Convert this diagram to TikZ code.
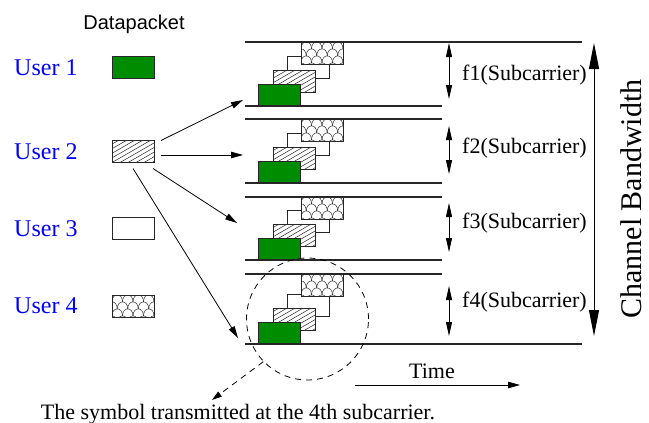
\documentclass[tikz,border=0pt]{standalone}
\usepackage{fontspec}
\setmainfont{Liberation Serif}
\newfontfamily\headsans{Liberation Sans}
\usetikzlibrary{arrows.meta,calc}

\definecolor{pktgreen}{RGB}{0,140,0}
\definecolor{userblue}{RGB}{0,0,255}

\tikzset{
  pkt/.style={draw=black!85, line width=0.8pt, minimum width=42pt, minimum height=22pt,
    inner sep=0pt, outer sep=0pt, fill=white},
  solidpkt/.style={pkt, fill=pktgreen},
  plainpkt/.style={pkt},
  hatchpkt/.style={pkt, path picture={
      \foreach \k in {-48,-40,...,48}
        \draw[line width=0.5pt] ([xshift=\k pt]path picture bounding box.south west) -- ++(40pt,23pt);
    }},
  meshpkt/.style={pkt, path picture={
      \foreach \r in {0,1,2,3,4}{
        \foreach \c in {-1,0,...,4}{
          \pgfmathsetmacro\ox{\c*10.5+mod(\r,2)*5.25}
          \pgfmathsetmacro\oy{-\r*7-7}
          \coordinate (m0) at ([xshift=\ox pt,yshift=\oy pt]path picture bounding box.north west);
          \draw[line width=0.5pt] (m0) .. controls +(0pt,9.5pt) and +(0pt,9.5pt) .. ($(m0)+(10.5pt,0pt)$);
        }
      }
    }},
  userlabel/.style={text=userblue, font=\fontsize{24}{28}\selectfont, anchor=west, inner sep=0pt},
  plain/.style={font=\fontsize{22}{26}\selectfont, inner sep=0pt},
  bandline/.style={line width=1.4pt, black!85},
  feed/.style={-{Triangle[length=12pt,width=6.5pt]}, line width=0.8pt},
  subarrow/.style={{Triangle[length=14pt,width=6pt]}-{Triangle[length=14pt,width=6pt]}, line width=0.8pt},
  bigarrow/.style={{Triangle[length=26pt,width=10pt]}-{Triangle[length=26pt,width=10pt]}, line width=1pt},
  focusring/.style={draw, circle, line width=0.8pt, dash pattern=on 6pt off 5pt, minimum size=122pt, inner sep=0pt},
  notearrow/.style={-{Triangle[length=10pt,width=6pt]}, line width=0.8pt, dash pattern=on 6pt off 5pt},
}

\begin{document}
\begin{tikzpicture}[x=1pt,y=-1pt]
\useasboundingbox (0,0) rectangle (649,423);

% legend of users and their packets
\node[font=\headsans\fontsize{20}{24}\selectfont, inner sep=0pt, anchor=base] (head) at (134,30) {Datapacket};
\node[userlabel] (l1) at (14,68) {User 1};
\node[userlabel] (l2) at (14,152) {User 2};
\node[userlabel] (l3) at (14,229) {User 3};
\node[userlabel] (l4) at (14,306) {User 4};
\node[solidpkt] (u1) at (133,67.5) {};
\node[hatchpkt] (u2) at (133,151.5) {};
\node[plainpkt] (u3) at (133,228.5) {};
\node[meshpkt]  (u4) at (133,306) {};

% subcarrier bands with the four staggered symbols
\foreach \i/\T/\B in {1/42/106, 2/119/183, 3/197/260, 4/274/344}{
  \node[plainpkt] (w\i) at (308,{\B-39}) {};
  \node[meshpkt]  (s\i) at (322,{\T+11}) {};
  \node[hatchpkt] (h\i) at (294,{\B-25}) {};
  \node[solidpkt] (g\i) at (279.5,{\B-11}) {};
}
\draw[bandline] (245,42) -- (582,42);
\draw[bandline] (245,106) -- (442,106);
\draw[bandline] (245,119) -- (442,119);
\draw[bandline] (245,183) -- (442,183);
\draw[bandline] (245,197) -- (442,197);
\draw[bandline] (245,260) -- (442,260);
\draw[bandline] (245,274) -- (442,274);
\draw[bandline] (245,344) -- (582,344);

% user 2 spreads its data over all subcarriers
\coordinate (in1) at (243,100);
\coordinate (in2) at (243,155);
\coordinate (in3) at (237,223);
\coordinate (in4) at (238,338);
\draw[feed] ($(u2.north east)+(7,0)$) -- (in1);
\draw[feed] ($(u2.east)+(7,3.5)$) -- (in2);
\draw[feed] ($(u2.south east)+(-1,6)$) -- (in3);
\draw[feed] ($(u2.south)+(0,6)$) -- (in4);

% subcarrier widths
\coordinate (a1) at (449,43);  \coordinate (b1) at (449,99);
\coordinate (a2) at (449,126); \coordinate (b2) at (449,174);
\coordinate (a3) at (449,203); \coordinate (b3) at (449,252);
\coordinate (a4) at (449,286); \coordinate (b4) at (449,336);
\foreach \i in {1,2,3,4}{ \draw[subarrow] (a\i) -- (b\i); }
\node[plain, anchor=west] (f1) at (462,75)  {f1(Subcarrier)};
\node[plain, anchor=west] (f2) at (462,148) {f2(Subcarrier)};
\node[plain, anchor=west] (f3) at (462,223) {f3(Subcarrier)};
\node[plain, anchor=west] (f4) at (462,302) {f4(Subcarrier)};

% whole channel
\coordinate (cbtop) at (594,43);
\coordinate (cbbot) at (594,336);
\draw[bigarrow] (cbtop) -- (cbbot);
\node[font=\fontsize{30}{34}\selectfont, rotate=90, inner sep=0pt] (cbw) at (631,199) {Channel Bandwidth};

% time axis
\node[plain, anchor=base] (time) at (432,378) {Time};
\coordinate (t0) at (355,385);
\coordinate (t1) at (520,385);
\draw[feed] (t0) -- (t1);

% highlighted symbol and its note
\node[focusring] (focus) at (307.5,319) {};
\node[plain, anchor=base] (note) at (238,419) {The symbol transmitted at the 4th subcarrier.};
\coordinate (notetip) at (212,400);
\draw[notearrow] (focus.224) -- (notetip);
\end{tikzpicture}
\end{document}
